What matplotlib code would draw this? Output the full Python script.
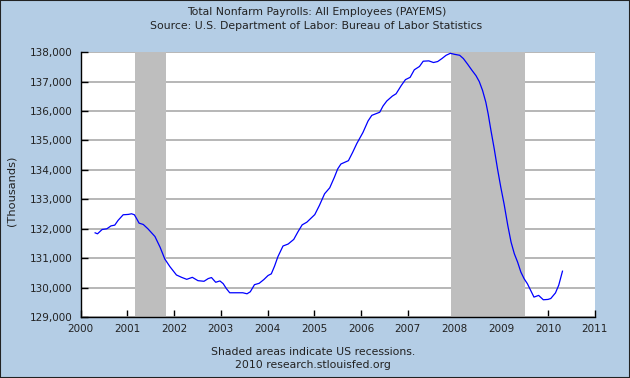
import matplotlib
matplotlib.use("Agg")
import matplotlib.pyplot as plt
import matplotlib.ticker as mtick
from matplotlib.patches import Rectangle

# ── Data ──────────────────────────────────────────────────────────────────────
years = [
    2000.31, 2000.36, 2000.46, 2000.56, 2000.65, 2000.73, 2000.80, 2000.91,
    2001.02, 2001.09, 2001.15, 2001.20, 2001.25, 2001.34, 2001.44, 2001.59,
    2001.70, 2001.80, 2001.91, 2002.05, 2002.16, 2002.27, 2002.39, 2002.51,
    2002.64, 2002.73, 2002.80, 2002.89, 2002.98, 2003.05, 2003.12, 2003.19,
    2003.33, 2003.47, 2003.56, 2003.63, 2003.72, 2003.82, 2003.92, 2004.01,
    2004.08, 2004.15, 2004.22, 2004.33, 2004.44, 2004.56, 2004.65, 2004.74,
    2004.84, 2005.01, 2005.11, 2005.22, 2005.33, 2005.43, 2005.50, 2005.57,
    2005.73, 2005.82, 2005.91, 2006.04, 2006.15, 2006.23, 2006.40, 2006.47,
    2006.55, 2006.67, 2006.75, 2006.86, 2006.95, 2007.05, 2007.14, 2007.25,
    2007.33, 2007.45, 2007.55, 2007.64, 2007.73, 2007.82, 2007.91, 2008.00,
    2008.11, 2008.19, 2008.28, 2008.37, 2008.46, 2008.53, 2008.60, 2008.67,
    2008.72, 2008.78, 2008.85, 2008.92, 2008.99, 2009.06, 2009.14, 2009.21,
    2009.28, 2009.35, 2009.42, 2009.49, 2009.56, 2009.63, 2009.70, 2009.80,
    2009.90, 2010.00, 2010.06, 2010.16, 2010.23, 2010.31,
]
payems = [
    131864, 131830, 131977, 132000, 132100, 132125, 132284, 132477,
    132489, 132511, 132477, 132340, 132193, 132148, 132000, 131739,
    131375, 130977, 130716, 130432, 130352, 130284, 130352, 130239,
    130218, 130310, 130345, 130184, 130230, 130138, 129966, 129828,
    129828, 129828, 129793, 129862, 130103, 130149, 130276, 130414,
    130471, 130736, 131050, 131416, 131483, 131640, 131899, 132135,
    132225, 132483, 132798, 133191, 133393, 133753, 134034, 134202,
    134315, 134596, 134899, 135270, 135663, 135854, 135960, 136170,
    136340, 136508, 136587, 136866, 137067, 137145, 137402, 137514,
    137693, 137704, 137648, 137682, 137782, 137894, 137961, 137927,
    137894, 137782, 137592, 137391, 137201, 137000, 136700, 136300,
    135903, 135337, 134715, 134036, 133414, 132848, 132113, 131548,
    131152, 130869, 130530, 130303, 130133, 129907, 129681, 129738,
    129590, 129602, 129633, 129823, 130085, 130561,
]
recessions = [(2001.17, 2001.83), (2007.92, 2009.50)]
x_ticks = list(range(2000, 2012))
y_ticks = list(range(129000, 139000, 1000))

# ── Style ─────────────────────────────────────────────────────────────────────
_BG      = "#B4CDE5"
_SHADE   = "#BEBEBE"
_GRID    = "#AAAAAA"
_LINE    = "#0000FF"
_TEXT    = "#222222"

plt.rcParams["font.family"] = ["DejaVu Sans"]

fig = plt.figure(figsize=(6.3, 3.78), dpi=100)
fig.patch.set_facecolor(_BG)
ax = fig.add_axes([0.128, 0.161, 0.816, 0.701])
ax.set_facecolor("white")

for start, end in recessions:
    ax.axvspan(start, end, color=_SHADE, lw=0, zorder=1)

ax.plot(years, payems, color=_LINE, linewidth=0.9, zorder=3)

ax.set_xlim(2000, 2011)
ax.set_ylim(129000, 138000)
ax.set_xticks(x_ticks)
ax.set_yticks(y_ticks)
ax.yaxis.set_major_formatter(mtick.StrMethodFormatter("{x:,.0f}"))

ax.set_axisbelow(True)
ax.grid(axis="y", color=_GRID, linewidth=1.2)
ax.tick_params(direction="in", length=5, width=1, colors="black",
               labelcolor=_TEXT, labelsize=7.5)
ax.tick_params(axis="x", pad=5)
ax.tick_params(axis="y", pad=6)
for side in ("top", "right"):
    ax.spines[side].set_visible(False)
for side in ("left", "bottom"):
    ax.spines[side].set_linewidth(1.0)

ax.set_ylabel("(Thousands)", fontsize=8.2, color=_TEXT)
ax.yaxis.set_label_coords(-0.124, 0.475)

fig.text(0.502, 0.968, "Total Nonfarm Payrolls: All Employees (PAYEMS)",
         ha="center", va="center", fontsize=7.8, color=_TEXT)
fig.text(0.502, 0.932, "Source: U.S. Department of Labor: Bureau of Labor Statistics",
         ha="center", va="center", fontsize=7.8, color=_TEXT)
fig.text(0.497, 0.070, "Shaded areas indicate US recessions.",
         ha="center", va="center", fontsize=7.8, color=_TEXT)
fig.text(0.497, 0.035, "2010 research.stlouisfed.org",
         ha="center", va="center", fontsize=7.8, color=_TEXT)

fig.patches.append(Rectangle((0, 0), 1, 1, transform=fig.transFigure,
                             fill=False, edgecolor="#222222", linewidth=1.5))

fig.savefig("out.png", dpi=100, facecolor=fig.get_facecolor())
